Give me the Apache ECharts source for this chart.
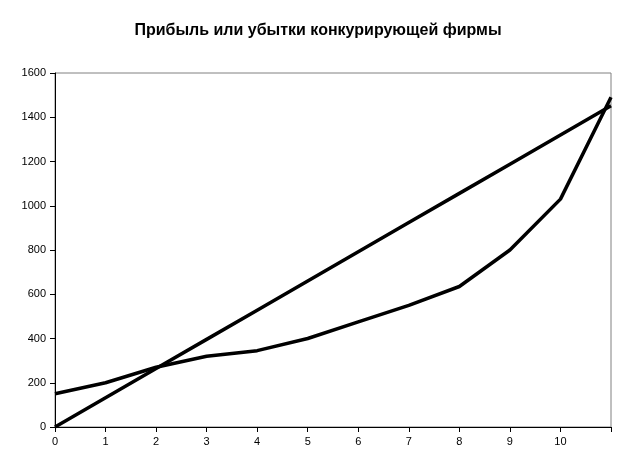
<!DOCTYPE html>
<html><head><meta charset="utf-8">
<script src="https://cdn.jsdelivr.net/npm/echarts@6/dist/echarts.min.js"></script>
<style>html,body{margin:0;padding:0;background:#fff}#c{width:636px;height:474px}</style>
</head><body><div id="c"></div>
<script>
var categories = ['0','1','2','3','4','5','6','7','8','9','10',''];
var revenue = [0,132,264,396,528,660,792,924,1056,1188,1320,1452];
var cost = [150,200,270,320,345,400,475,550,635,800,1030,1490];
var yTicks = [0,200,400,600,800,1000,1200,1400,1600];

var chart = echarts.init(document.getElementById('c'));
var font = 'Liberation Sans, Arial, sans-serif';
chart.setOption({
  animation:false,
  backgroundColor:'#fff',
  title:{text:'Прибыль или убытки конкурирующей фирмы',left:'center',top:18,
    textStyle:{fontFamily:font,fontSize:16,fontWeight:'bold',color:'#000'}},
  grid:{left:55,right:25,top:73,bottom:47,show:true,borderColor:'#808080',borderWidth:1},
  xAxis:{type:'category',data:categories,boundaryGap:false,
    axisLine:{lineStyle:{color:'#000',width:1}},
    axisTick:{show:true,length:5,alignWithLabel:true,lineStyle:{color:'#000'}},
    axisLabel:{fontFamily:font,fontSize:11,color:'#000',margin:9,interval:0},
    splitLine:{show:false}},
  yAxis:{type:'value',min:yTicks[0],max:yTicks[yTicks.length-1],interval:200,
    axisLine:{show:true,lineStyle:{color:'#000',width:1}},
    axisTick:{show:true,length:5,lineStyle:{color:'#000'}},
    axisLabel:{fontFamily:font,fontSize:11,color:'#000',margin:9,formatter:function(v){return String(v);}},
    splitLine:{show:false}},
  series:[
    {type:'line',data:revenue,symbol:'none',lineStyle:{color:'#000',width:3.5}},
    {type:'line',data:cost,symbol:'none',lineStyle:{color:'#000',width:3.5}}
  ]
});
</script></body></html>
